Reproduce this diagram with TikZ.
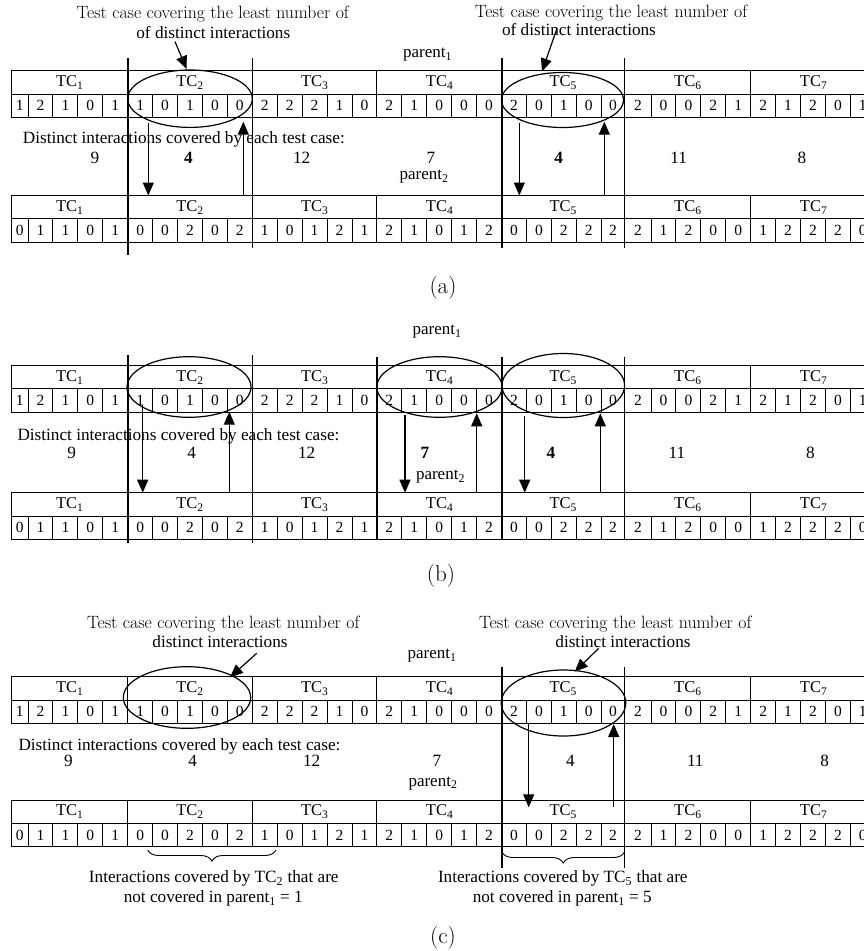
\documentclass[tikz,border=0pt]{standalone}
\usepackage{fontspec}
\newfontfamily\tms{Liberation Serif}
\usetikzlibrary{arrows.meta,decorations.pathreplacing}
\tikzset{
  tline/.style={line width=0.9pt},
  sepline/.style={line width=1.6pt},
  tclab/.style={font=\tms\fontsize{16.5}{19}\selectfont, inner sep=0pt},
  dig/.style={font=\tms\fontsize{15.5}{18}\selectfont, inner sep=0pt},
  txt/.style={font=\tms\fontsize{17.2}{19}\selectfont, inner sep=0pt},
  lmtxt/.style={font=\fontsize{17.8}{20}\selectfont, inner sep=0pt},
  partxt/.style={font=\tms\fontsize{17}{19}\selectfont, inner sep=0pt},
  captxt/.style={font=\fontsize{23}{25}\selectfont, inner sep=0pt},
  arr/.style={line width=1.2pt, -{Triangle[width=11pt,length=13pt]}},
  oval/.style={line width=1.2pt},
  bracebig/.style={line width=0.9pt, decorate, decoration={brace, mirror, amplitude=11pt}},
}
\newcommand{\drawtbl}[3]{%
  \draw[tline] (11.7,#1) rectangle (880,#1+46.6);
  \draw[tline] (11.7,#1+23.3) -- (880,#1+23.3);
  \foreach \i in {1,...,34}{%
    \pgfmathsetmacro\bx{\i==25 ? 624.5 : 127.7+(\i-5)*24.92}%
    \pgfmathtruncatemacro\mm{mod(\i,5)}%
    \ifnum\mm=0 \draw[tline] (\bx,#1) -- (\bx,#1+46.6);%
    \else \draw[tline] (\bx,#1+23.3) -- (\bx,#1+46.6);\fi
  }
  \foreach \cx [count=\k] in {69.7,190,314.8,439.6,563.3,687.9,813.6}{%
    \node[tclab] (#2-tc\k) at (\cx,#1+11.8) {TC\textsubscript{\k}};
  }
  \foreach \d [count=\k from 0] in {#3}{%
    \pgfmathsetmacro\cx{\k==0 ? 19.8 : (\k==24 ? 612.9 : (\k==25 ? 638 : 127.7+(\k-5)*24.92+12.46))}%
    \node[dig] (#2-d\k) at (\cx,#1+35) {\d};
  }
}
\begin{document}
\begin{tikzpicture}[x=1pt,y=-1pt]
\useasboundingbox (0,0) rectangle (864,951);
\fill[white] (0,0) rectangle (864,951);
\clip (0,0) rectangle (864,951);

% ================= Panel (a) =================
\node[lmtxt] (a-annL1) at (212.7,14) {Test case covering the least number of};
\node[txt] (a-annL2) at (213.3,33) {of distinct interactions};
\node[lmtxt] (a-annR1) at (611,13) {Test case covering the least number of};
\node[txt] (a-annR2) at (579,30) {of distinct interactions};
\node[partxt] (a-par1) at (427.5,55) {parent\textsubscript{1}};
\node[partxt] (a-par2) at (424,177) {parent\textsubscript{2}};
\node[txt, anchor=west] (a-dist) at (22.7,139.3) {Distinct interactions covered by each test case:};
\node[txt] (a-n1) at (95,158.3) {9};
\node[txt] (a-n2) at (188.3,158.3) {\bfseries 4};
\node[txt] (a-n3) at (301.7,158.3) {12};
\node[txt] (a-n4) at (431,158.3) {7};
\node[txt] (a-n5) at (558.7,158.3) {\bfseries 4};
\node[txt] (a-n6) at (678.7,158.3) {11};
\node[txt] (a-n7) at (802,158.3) {8};

\drawtbl{70.7}{ap}{1,2,1,0,1,1,0,1,0,0,2,2,2,1,0,2,1,0,0,0,2,0,1,0,0,2,0,0,2,1,2,1,2,0,1}
\drawtbl{195.5}{aq}{0,1,1,0,1,0,0,2,0,2,1,0,1,2,1,2,1,0,1,2,0,0,2,2,2,2,1,2,0,0,1,2,2,2,0}

\draw[sepline] (127.7,58.3) -- (127.7,255);
\draw[sepline] (252.3,58.3) -- (252.3,248);
\draw[sepline] (501.9,58.3) -- (501.9,248);
\draw[sepline] (624.5,58.3) -- (624.5,248);

\draw[oval] (190,98.7) ellipse [x radius=62.3pt, y radius=28.7pt];
\draw[oval] (562.5,100) ellipse [x radius=61pt, y radius=27.5pt];

\coordinate (a-s1) at (175,41.7); \coordinate (a-t1) at (186.7,69);
\coordinate (a-s2) at (557,28.3); \coordinate (a-t2) at (542,71.5);
\draw[arr] (a-s1) -- (a-t1);
\draw[arr] (a-s2) -- (a-t2);
\coordinate (a-d1s) at (148.3,122.7); \coordinate (a-d1e) at (148.3,195.5);
\coordinate (a-u1s) at (243.3,195.5); \coordinate (a-u1e) at (243.3,121.7);
\coordinate (a-d2s) at (519.3,122.7); \coordinate (a-d2e) at (519.3,195.5);
\coordinate (a-u2s) at (604.3,195.5); \coordinate (a-u2e) at (604.3,121.7);
\draw[arr] (a-d1s) -- (a-d1e);
\draw[arr] (a-u1s) -- (a-u1e);
\draw[arr] (a-d2s) -- (a-d2e);
\draw[arr] (a-u2s) -- (a-u2e);
\node[captxt] (a-cap) at (443,288) {(a)};

% ================= Panel (b) =================
\node[partxt] (b-par1) at (437,331.7) {parent\textsubscript{1}};
\node[txt, anchor=west] (b-dist) at (17.3,436) {Distinct interactions covered by each test case:};
\node[txt] (b-n1) at (71.7,452.7) {9};
\node[txt] (b-n2) at (191.7,452.7) {4};
\node[txt] (b-n3) at (306.7,452.7) {12};
\node[txt] (b-n4) at (425,452.7) {\bfseries 7};
\node[txt] (b-n5) at (551,452.7) {\bfseries 4};
\node[txt] (b-n6) at (677,452.7) {11};
\node[txt] (b-n7) at (810.3,452.7) {8};
\node[partxt] (b-par2) at (440.5,476.7) {parent\textsubscript{2}};

\drawtbl{365.5}{bp}{1,2,1,0,1,1,0,1,0,0,2,2,2,1,0,2,1,0,0,0,2,0,1,0,0,2,0,0,2,1,2,1,2,0,1}
\drawtbl{492.7}{bq}{0,1,1,0,1,0,0,2,0,2,1,0,1,2,1,2,1,0,1,2,0,0,2,2,2,2,1,2,0,0,1,2,2,2,0}

\draw[sepline] (127.7,355) -- (127.7,543.3);
\draw[sepline] (252.3,355) -- (252.3,543.3);
\draw[sepline] (377,356.7) -- (377,539.3);
\draw[sepline] (501.9,356.7) -- (501.9,539.3);
\draw[sepline] (624.5,356.7) -- (624.5,539.3);

\draw[oval] (189,387) ellipse [x radius=62pt, y radius=30.3pt];
\draw[oval] (439.5,387) ellipse [x radius=62.6pt, y radius=30.3pt];
\draw[oval] (563.3,385.5) ellipse [x radius=61.3pt, y radius=32pt];

\coordinate (b-d1s) at (142.7,405); \coordinate (b-d1e) at (142.7,492.7);
\coordinate (b-u1s) at (229.3,492.7); \coordinate (b-u1e) at (229.3,411.7);
\coordinate (b-d2s) at (405,415); \coordinate (b-d2e) at (405,492.7);
\coordinate (b-u2s) at (476.7,492.7); \coordinate (b-u2e) at (476.7,413.3);
\coordinate (b-d3s) at (524.7,416); \coordinate (b-d3e) at (524.7,492.7);
\coordinate (b-u3s) at (600.3,492.7); \coordinate (b-u3e) at (600.3,413.3);
\draw[arr] (b-d1s) -- (b-d1e);
\draw[arr] (b-u1s) -- (b-u1e);
\draw[arr] (b-d2s) -- (b-d2e);
\draw[arr] (b-u2s) -- (b-u2e);
\draw[arr] (b-d3s) -- (b-d3e);
\draw[arr] (b-u3s) -- (b-u3e);
\node[captxt] (b-cap) at (441,576) {(b)};

% ================= Panel (c) =================
\node[lmtxt] (c-annL1) at (223.3,624.5) {Test case covering the least number of};
\node[txt] (c-annL2) at (220,641.7) {distinct interactions};
\node[lmtxt] (c-annR1) at (615.3,624.5) {Test case covering the least number of};
\node[txt] (c-annR2) at (623,641.7) {distinct interactions};
\node[partxt] (c-par1) at (432,655.5) {parent\textsubscript{1}};
\node[txt, anchor=west] (c-dist) at (18.3,746.7) {Distinct interactions covered by each test case:};
\node[txt] (c-n1) at (68.3,760.5) {9};
\node[txt] (c-n2) at (192.7,760.5) {4};
\node[txt] (c-n3) at (311.7,760.5) {12};
\node[txt] (c-n4) at (437,760.5) {7};
\node[txt] (c-n5) at (570.3,760.5) {4};
\node[txt] (c-n6) at (695.3,760.5) {11};
\node[txt] (c-n7) at (824.7,760.5) {8};
\node[partxt] (c-par2) at (433,783.3) {parent\textsubscript{2}};

\drawtbl{676.7}{cp}{1,2,1,0,1,1,0,1,0,0,2,2,2,1,0,2,1,0,0,0,2,0,1,0,0,2,0,0,2,1,2,1,2,0,1}
\drawtbl{800}{cq}{0,1,1,0,1,0,0,2,0,2,1,0,1,2,1,2,1,0,1,2,0,0,2,2,2,2,1,2,0,0,1,2,2,2,0}

\draw[sepline] (501.9,666.7) -- (501.9,868.3);
\draw[sepline] (624.5,666.7) -- (624.5,868.3);

\draw[oval] (187,697.5) ellipse [x radius=63.7pt, y radius=30.8pt];
\draw[oval] (563.5,703) ellipse [x radius=62.3pt, y radius=33pt];

\coordinate (c-s1) at (256.7,653.3); \coordinate (c-t1) at (230,677.3);
\coordinate (c-s2) at (598.7,648.3); \coordinate (c-t2) at (574.7,671.7);
\draw[arr] (c-s1) -- (c-t1);
\draw[arr] (c-s2) -- (c-t2);
\coordinate (c-d1s) at (528.7,723.3); \coordinate (c-d1e) at (528.7,807.3);
\coordinate (c-u1s) at (613.7,807.3); \coordinate (c-u1e) at (613.7,724);
\draw[arr] (c-d1s) -- (c-d1e);
\draw[arr] (c-u1s) -- (c-u1e);

\coordinate (c-b1a) at (147.7,850); \coordinate (c-b1b) at (276,850);
\coordinate (c-b2a) at (501.9,852); \coordinate (c-b2b) at (624.5,852);
\draw[bracebig] (c-b1a) -- (c-b1b);
\draw[bracebig] (c-b2a) -- (c-b2b);
\node[txt] (c-brL1) at (213.8,878.3) {Interactions covered by TC\textsubscript{2} that are};
\node[txt] (c-brL2) at (213.3,898.3) {not covered in parent\textsubscript{1} = 1};
\node[txt] (c-brR1) at (562.8,878.3) {Interactions covered by TC\textsubscript{5} that are};
\node[txt] (c-brR2) at (562.3,898.3) {not covered in parent\textsubscript{1} = 5};
\node[captxt] (c-cap) at (443,938) {(c)};
\end{tikzpicture}
\end{document}
